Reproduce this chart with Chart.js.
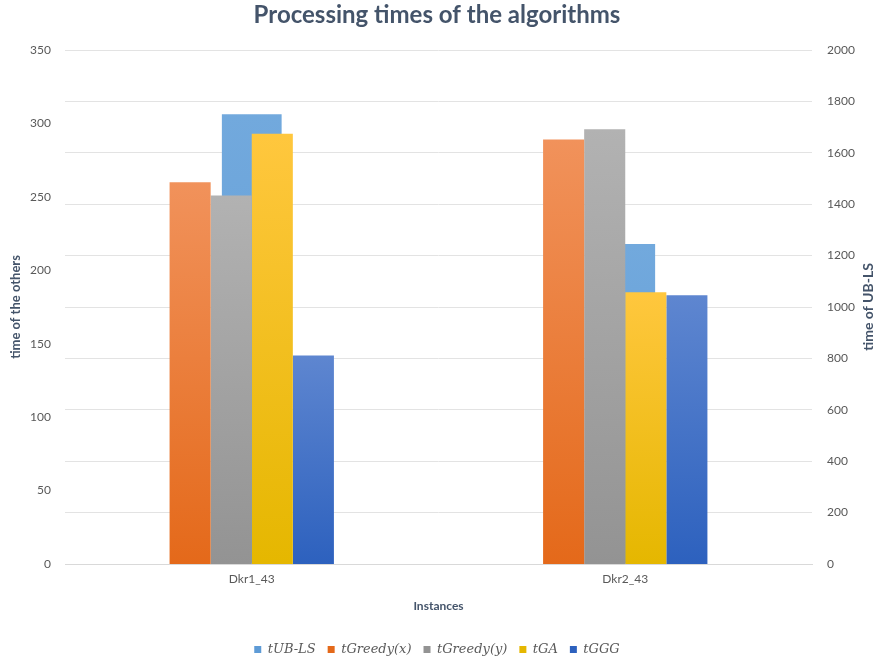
<!DOCTYPE html>
<html>
<head>
<meta charset="utf-8">
<script src="https://cdn.jsdelivr.net/npm/chart.js@4/dist/chart.umd.min.js"></script>
<style>
	body { margin: 0; background: #ffffff; }
	canvas { display: block; }
</style>
</head>
<body>
<canvas id="graphics-canvas" width="874" height="661"></canvas>
<script>
// values
let categories = ["Dkr1_43", "Dkr2_43"];
let t_ub_ls = [1750, 1245];        // right axis
let t_greedy_x = [260, 289];
let t_greedy_y = [251, 296];
let t_ga = [293, 185];
let t_ggg = [142, 183];
let left_ticks = [0, 50, 100, 150, 200, 250, 300, 350];
let right_ticks = [0, 200, 400, 600, 800, 1000, 1200, 1400, 1600, 1800, 2000];

const text_dark = "#44546A";
const text_grey = "#595959";

// vertical gradient per bar, lighter at the top, darker at the base
function bar_gradient (top_color, bottom_color) {
	return ctx => {
		let chart = ctx.chart;
		if (ctx.type !== "data" || !chart.chartArea) {
			return bottom_color;
		}
		let scale = chart.scales[ctx.dataset.yAxisID || "y"];
		let y_top = scale.getPixelForValue(ctx.raw);
		let y_base = scale.getPixelForValue(0);
		if (!isFinite(y_top) || !isFinite(y_base) || y_top === y_base) {
			return bottom_color;
		}
		let grad = chart.ctx.createLinearGradient(0, y_top, 0, y_base);
		grad.addColorStop(0, top_color);
		grad.addColorStop(1, bottom_color);
		return grad;
	};
}

// right axis title reads bottom to top like the left one
const right_title = {
	id: "right_title",
	afterDraw (chart) {
		let area = chart.chartArea;
		let c = chart.ctx;
		c.save();
		c.translate(868, (area.top + area.bottom) / 2);
		c.rotate(-Math.PI / 2);
		c.font = "bold 14px Lato";
		c.fillStyle = text_dark;
		c.textAlign = "center";
		c.textBaseline = "middle";
		c.fillText("time of UB-LS", 0, 0);
		c.restore();
	}
};

let config = {
	type: "bar",
	data: {
		labels: categories,
		datasets: [
			{
				label: "tUB-LS",
				data: t_ub_ls,
				yAxisID: "y2",
				grouped: false,
				order: 1,
				categoryPercentage: 0.16,
				barPercentage: 1,
				backgroundColor: bar_gradient("#72A9DD", "#5E9BD6")
			},
			{
				label: "tGreedy(x)",
				data: t_greedy_x,
				yAxisID: "y",
				backgroundColor: bar_gradient("#F1925B", "#E4691A")
			},
			{
				label: "tGreedy(y)",
				data: t_greedy_y,
				yAxisID: "y",
				backgroundColor: bar_gradient("#B2B2B2", "#939393")
			},
			{
				label: "tGA",
				data: t_ga,
				yAxisID: "y",
				backgroundColor: bar_gradient("#FFC73E", "#E5B700")
			},
			{
				label: "tGGG",
				data: t_ggg,
				yAxisID: "y",
				backgroundColor: bar_gradient("#5E86D0", "#2D61BE")
			}
		]
	},
	options: {
		responsive: false,
		animation: false,
		categoryPercentage: 0.44,
		barPercentage: 1,
		borderWidth: 0,
		layout: { padding: { top: 0, left: 0, right: 0, bottom: -5 } },
		font: { family: "Lato" },
		scales: {
			x: {
				grid: { display: false, drawTicks: false },
				border: { display: true, color: "#D9D9D9" },
				ticks: { color: text_grey, font: { size: 12 }, padding: 8 },
				title: {
					display: true,
					text: "Instances",
					color: text_dark,
					font: { size: 12, weight: "bold" },
					padding: { top: 0, bottom: 17.8 }
				},
				afterFit: s => { s.height = 67; }
			},
			y: {
				position: "left",
				min: 0,
				max: 350,
				afterBuildTicks: s => { s.ticks = left_ticks.map(v => ({ value: v })); },
				grid: { display: false, drawTicks: false },
				border: { display: false },
				ticks: { color: text_grey, font: { size: 12 }, padding: 14, callback: v => String(v) },
				title: {
					display: true,
					text: "time of the others",
					color: text_dark,
					font: { size: 13, weight: "bold" },
					padding: { top: 8, bottom: 0 }
				},
				afterFit: s => { s.width = 65; }
			},
			y2: {
				position: "right",
				min: 0,
				max: 2000,
				afterBuildTicks: s => { s.ticks = right_ticks.map(v => ({ value: v })); },
				grid: { display: true, drawTicks: false, color: "#E3E3E3" },
				border: { display: false },
				ticks: { color: text_grey, font: { size: 12 }, padding: 15, callback: v => String(v) },
				afterFit: s => { s.width = 62; }
			}
		},
		plugins: {
			title: {
				display: true,
				text: "Processing times of the algorithms",
				color: text_dark,
				font: { size: 24, weight: "bold", family: "Lato" },
				padding: { top: 0.6, bottom: 20.6 }
			},
			legend: {
				position: "bottom",
				labels: {
					boxWidth: 7,
					boxHeight: 7,
					padding: 12,
					color: text_grey,
					font: { family: "DejaVu Serif", style: "italic", size: 13 },
					sort: (a, b) => a.datasetIndex - b.datasetIndex
				}
			},
			tooltip: { enabled: false }
		}
	},
	plugins: [right_title]
};

let chart = new Chart(document.getElementById("graphics-canvas"), config);
</script>
</body>
</html>
